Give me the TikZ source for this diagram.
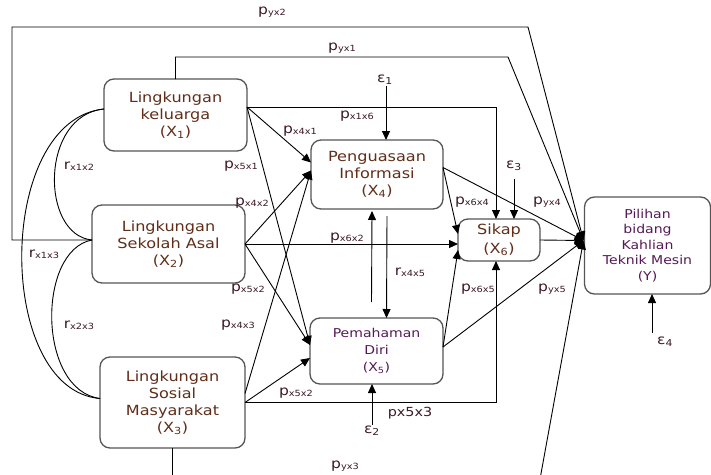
\documentclass[tikz,border=0pt]{standalone}
\usepackage{fontspec}
\setmainfont{DejaVu Sans}[FakeStretch=1.15]
\usepackage{tikz}
\usetikzlibrary{positioning,calc,arrows.meta}

\definecolor{boxtext}{RGB}{95,45,25}
\definecolor{ytext}{RGB}{85,25,85}
\definecolor{lbltext}{RGB}{60,25,35}
\definecolor{boxline}{RGB}{85,85,85}

\newcommand{\pth}[2]{#1\raisebox{-1pt}{\fontsize{8.5}{8.5}\selectfont #2}}
\newcommand{\vx}[1]{(X\textsubscript{#1})}

\begin{document}
\begin{tikzpicture}[x=1pt,y=-1pt,
    box/.style={draw=boxline, line width=1.3pt, rounded corners=10pt, align=center,
        inner sep=0pt, outer sep=0pt, text=boxtext, font=\fontsize{14}{17}\selectfont},
    lbl/.style={inner sep=1pt, text=lbltext, font=\fontsize{13.5}{14}\selectfont},
    arr/.style={-{Triangle[length=9pt,width=8pt]}, line width=0.9pt},
    con/.style={line width=0.9pt}]
\useasboundingbox (0,0) rectangle (711,474);

% variables
\node[box, minimum width=143pt, minimum height=72pt] (x1) at (175.5,115) {Lingkungan\\keluarga\\\vx{1}};
\node[box, minimum width=153pt, minimum height=78pt] (x2) at (168.5,244) {Lingkungan\\Sekolah Asal\\\vx{2}};
\node[box, minimum width=145pt, minimum height=91pt] (x3) at (172.5,402.5) {Lingkungan\\Sosial\\Masyarakat\\\vx{3}};
\node[box, minimum width=132pt, minimum height=69pt] (x4) at (377,174.5) {Penguasaan\\Informasi\\\vx{4}};
\node[box, minimum width=133pt, minimum height=66pt, text=ytext, font=\fontsize{12.2}{17}\selectfont] (x5) at (376.5,351) {Pemahaman\\Diri\\\vx{5}};
\node[box, minimum width=82pt, minimum height=42pt, font=\fontsize{14}{19}\selectfont] (x6) at (499,240) {Sikap\\\vx{6}};
\node[box, minimum width=126pt, minimum height=97pt, text=ytext, font=\fontsize{12.2}{15.5}\selectfont] (y) at (647.5,245.5) {Pilihan\\bidang\\Kahlian\\Teknik Mesin\\(Y)};

\coordinate (yin) at ([xshift=-1pt,yshift=5pt]y.west);

% paths to Y
\draw[arr] ([yshift=4pt]x2.west) -| (12,27) -- (528,27) -- (yin);
\draw[arr] (x1.north) |- (508,57) -- (yin);
\begin{scope}
  \clip (0,0) rectangle (711,474);
  \draw[arr] (x3.south) |- (538,490) -- (yin);
\end{scope}
\draw[arr] ([yshift=7pt]x4.east) -- (yin);
\draw[arr] ([yshift=4pt]x5.east) -- (yin);
\draw[arr] (x6.east) -- (yin);

% from X1, X2, X3
\draw[arr] ([yshift=8pt]x1.east) -| ([xshift=-3pt]x6.north);
\draw[arr] ([yshift=8pt]x1.east) -- ([yshift=12pt]x4.west);
\draw[arr] ([yshift=8pt]x1.east) -- ([yshift=6pt]x5.west);
\draw[arr] (x2.east) -- ([yshift=4pt]x4.west);
\draw[arr] (x2.east) -- (x2.east -| x6.west);
\draw[arr] (x2.east) -- ([yshift=6pt]x5.west);
\draw[arr] ([yshift=9pt]x3.east) -- ([yshift=4pt]x4.west);
\draw[arr] (x3.east) -- ([yshift=-7pt]x5.west);
\draw[arr] (x3.east) -| ([xshift=-3pt]x6.south);

% to Sikap
\draw[arr] ([yshift=7pt]x4.east) -- ([yshift=6pt]x6.west);
\draw[arr] ([yshift=4pt]x5.east) -- ([yshift=-10pt]x6.west);

% X4 <-> X5
\draw[arr] ([xshift=-5pt,yshift=16pt]x5.north) -- ([xshift=-5pt,yshift=-2pt]x4.south);
\draw[arr] ([xshift=10pt,yshift=-7pt]x4.south) -- ([xshift=10pt]x5.north);

% correlations
\draw[con] ([yshift=6pt]x1.west) .. controls (40,115) and (40,235) .. ([yshift=4pt]x2.west);
\draw[con] ([yshift=6pt]x1.west) .. controls (-5,120) and (-5,390) .. ([yshift=4pt]x3.west);
\draw[con] ([yshift=4pt]x2.west) .. controls (37,250) and (37,390) .. ([yshift=4pt]x3.west);

% errors
\node[lbl] (e1) at (385,80) {ε\textsubscript{1}};
\node[lbl] (e2) at (372,431) {ε\textsubscript{2}};
\node[lbl] (e3) at (514,166) {ε\textsubscript{3}};
\node[lbl] (e4) at (665,342) {ε\textsubscript{4}};
\coordinate (e3s) at ([yshift=-7pt]e3.south);
\coordinate (e4s) at ([xshift=-13pt,yshift=3pt]e4.north);
\draw[arr] ([xshift=1pt]e1.south) -- ([xshift=9pt]x4.north);
\draw[arr] (e2.north) -- (e2.north |- x5.south);
\draw[arr] (e3s) -- (e3s |- x6.north);
\draw[arr] (e4s) -- (e4s |- y.south);

% path labels
\node[lbl] (lyx2) at (272,12) {\pth{p}{yx2}};
\node[lbl] (lyx1) at (342,48) {\pth{p}{yx1}};
\node[lbl] (lx1x6) at (357,116) {\pth{p}{x1x6}};
\node[lbl] (lx4x1) at (300,131) {\pth{p}{x4x1}};
\node[lbl] (lx5x1) at (241,166) {\pth{p}{x5x1}};
\node[lbl] (rx1x2) at (79,166) {\pth{r}{x1x2}};
\node[lbl] (lx4x2) at (252,203) {\pth{p}{x4x2}};
\node[lbl] (rx1x3) at (44,254) {\pth{r}{x1x3}};
\node[lbl] (lx6x2) at (347,238) {\pth{p}{x6x2}};
\node[lbl] (lx5x2) at (248,289) {\pth{p}{x5x2}};
\node[lbl] (rx2x3) at (79,325) {\pth{r}{x2x3}};
\node[lbl] (lx4x3) at (238,325) {\pth{p}{x4x3}};
\node[lbl] (rx4x5) at (410,272) {\pth{r}{x4x5}};
\node[lbl] (lx6x4) at (472,202) {\pth{p}{x6x4}};
\node[lbl] (lyx4) at (547,202) {\pth{p}{yx4}};
\node[lbl] (lx6x5) at (478,289) {\pth{p}{x6x5}};
\node[lbl] (lyx5) at (552,289) {\pth{p}{yx5}};
\node[lbl] (lx5x2b) at (296,393) {\pth{p}{x5x2}};
\node[lbl, font=\fontsize{12.5}{14}\selectfont] (lx5x3) at (410,413) {px5x3};
\node[lbl] (lyx3) at (345,466) {\pth{p}{yx3}};
\end{tikzpicture}
\end{document}
